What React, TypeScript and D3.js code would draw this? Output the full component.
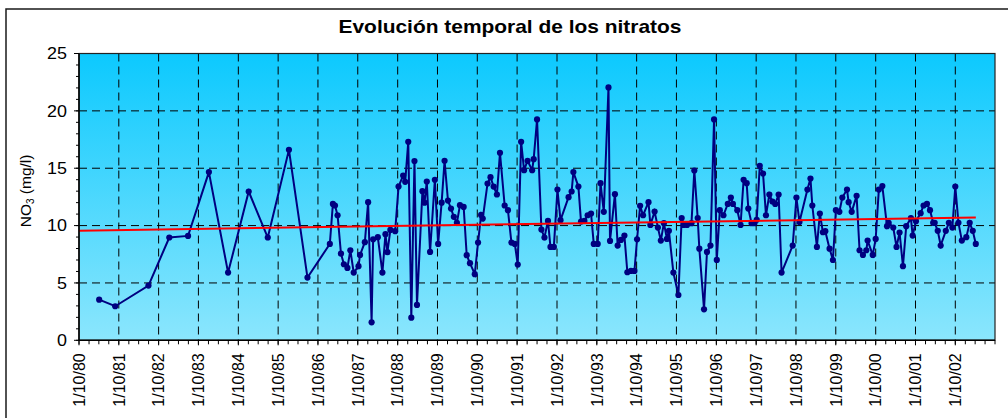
import React from "react";
import * as d3 from "d3";

const sampleDates = [
  "1981-04-04","1981-08-29","1982-06-30","1983-01-07","1983-06-28","1984-01-05","1984-06-29","1985-01-04","1985-06-28","1986-01-08",
  "1986-06-27","1987-01-18","1987-02-15","1987-03-06","1987-03-30","1987-04-30","1987-05-27","1987-06-28","1987-07-25","1987-08-25",
  "1987-10-08","1987-10-22","1987-12-05","1988-01-04","1988-02-05","1988-02-19","1988-04-02","1988-05-14","1988-06-11","1988-06-29",
  "1988-07-26","1988-09-08","1988-10-09","1988-11-20","1988-12-09","1989-01-06","1989-02-03","1989-03-04","1989-03-27","1989-05-16",
  "1989-06-04","1989-06-25","1989-07-25","1989-09-07","1989-10-07","1989-11-08","1989-12-05","1990-01-05","1990-02-02","1990-02-28",
  "1990-03-28","1990-04-25","1990-05-29","1990-06-26","1990-07-26","1990-09-08","1990-10-08","1990-11-05","1990-11-20","1991-01-03",
  "1991-01-30","1991-02-28","1991-03-30","1991-04-27","1991-06-09","1991-07-09","1991-08-10","1991-09-10","1991-10-07","1991-11-07",
  "1991-12-04","1992-01-05","1992-02-16","1992-03-01","1992-04-01","1992-05-11","1992-06-08","1992-07-10","1992-08-02","1992-09-02",
  "1992-10-05","1992-11-02","1993-01-15","1993-02-12","1993-02-28","1993-04-15","1993-05-09","1993-06-09","1993-07-09","1993-08-09",
  "1993-09-03","1993-10-09","1993-11-04","1993-12-04","1994-01-16","1994-01-30","1994-03-16","1994-04-10","1994-05-10","1994-06-11",
  "1994-07-08","1994-08-10","1994-09-11","1994-10-05","1994-11-02","1994-11-29","1995-01-18","1995-02-04","1995-03-15","1995-04-14",
  "1995-05-11","1995-06-08","1995-07-06","1995-07-24","1995-09-03","1995-10-19","1995-11-18","1995-12-06","1996-01-06","1996-02-16",
  "1996-03-13","1996-04-13","1996-04-28","1996-06-10","1996-07-07","1996-08-08","1996-09-10","1996-10-05","1996-11-02","1996-12-05",
  "1997-01-14","1997-02-11","1997-03-02","1997-04-11","1997-05-11","1997-06-08","1997-07-06","1997-07-21","1997-08-20","1997-09-15",
  "1997-10-06","1997-11-03","1997-12-03","1997-12-30","1998-01-30","1998-02-27","1998-03-25","1998-04-25","1998-05-22","1998-09-01",
  "1998-10-05","1998-11-02","1999-01-14","1999-02-11","1999-02-28","1999-04-11","1999-05-08","1999-06-05","1999-06-27","1999-08-05",
  "1999-09-05","1999-10-02","1999-11-03","1999-11-30","2000-01-12","2000-01-27","2000-02-24","2000-04-09","2000-05-06","2000-06-06",
  "2000-07-07","2000-07-19","2000-09-04","2000-10-01","2000-10-30","2000-12-01","2001-01-13","2001-01-28","2001-03-11","2001-04-10",
  "2001-05-08","2001-06-08","2001-07-08","2001-08-20","2001-09-05","2001-10-05","2001-11-17","2001-12-14","2002-01-14","2002-02-11",
  "2002-03-12","2002-03-26","2002-04-23","2002-05-20","2002-07-06","2002-08-03","2002-09-04","2002-10-01","2002-10-30","2002-11-30",
  "2003-01-10","2003-02-10","2003-03-10","2003-04-07",
];

const nitrate = [
  3.54, 2.97, 4.77, 8.96, 9.1, 14.66, 5.9, 12.97, 8.96, 16.6,
  5.47, 8.4, 11.89, 11.75, 10.9, 7.56, 6.63, 6.31, 7.85, 5.9,
  6.46, 7.44, 8.55, 12.04, 1.57, 8.81, 8.99, 5.9, 9.25, 7.68,
  9.62, 9.51, 13.4, 14.36, 13.81, 17.3, 1.97, 15.62, 3.08, 13.0,
  12.0, 13.84, 7.7, 13.99, 8.4, 12.0, 15.65, 12.18, 11.48, 10.76,
  10.24, 11.78, 11.63, 7.42, 6.72, 5.76, 8.52, 10.93, 10.61, 13.67,
  14.22, 13.4, 12.71, 16.34, 11.75, 11.34, 8.52, 8.4, 6.6, 17.3,
  14.83, 15.65, 14.83, 15.79, 19.25, 9.65, 8.96, 10.41, 8.14, 8.14,
  13.14, 10.47, 12.48, 12.97, 14.66, 13.4, 10.35, 10.41, 10.9, 11.05,
  8.4, 8.4, 13.7, 11.2, 22.04, 8.66, 12.74, 8.26, 8.75, 9.13,
  5.93, 6.05, 6.05, 8.81, 11.72, 10.9, 12.04, 10.06, 11.22, 9.83,
  8.69, 10.21, 8.84, 9.54, 5.9, 3.95, 10.65, 10.06, 10.06, 10.21,
  14.8, 10.65, 7.99, 2.7, 7.7, 8.26, 19.25, 7.01, 11.34, 10.9,
  11.89, 12.44, 11.89, 11.34, 10.06, 13.99, 13.7, 11.48, 10.21, 10.21,
  10.5, 15.21, 14.54, 10.9, 12.71, 12.1, 11.89, 12.71, 5.9, 8.26,
  12.44, 10.32, 13.14, 14.1, 11.75, 8.14, 11.05, 9.42, 9.51, 7.99,
  7.0, 11.34, 11.2, 12.44, 13.14, 12.04, 11.2, 12.59, 7.85, 7.44,
  7.85, 8.69, 7.44, 8.84, 13.14, 13.44, 9.95, 10.24, 9.83, 8.14,
  9.39, 6.46, 9.95, 10.65, 9.13, 10.38, 11.08, 11.75, 11.89, 11.34,
  10.24, 10.24, 9.54, 8.26, 9.54, 10.24, 9.83, 13.4, 10.24, 8.69,
  8.99, 10.24, 9.54, 8.4,
];

const xTickLabels = [
  "1/10/80","1/10/81","1/10/82","1/10/83","1/10/84","1/10/85","1/10/86","1/10/87",
  "1/10/88","1/10/89","1/10/90","1/10/91","1/10/92","1/10/93","1/10/94","1/10/95",
  "1/10/96","1/10/97","1/10/98","1/10/99","1/10/00","1/10/01","1/10/02",
];
const yTicks = [0, 5, 10, 15, 20, 25];
const trendStartEnd = [9.56, 10.7];
const axisRange = ["1980-10-01", "2003-09-30"];

const W = 1008;
const H = 418;
const M = { left: 79, right: 995, top: 53.5, bottom: 340.3 };

export default function App() {
  const parseISO = d3.timeParse("%Y-%m-%d");
  const parseTick = d3.timeParse("%d/%m/%y");
  const domain = axisRange.map((s) => parseISO(s) as Date);
  const x = d3.scaleTime().domain(domain).range([M.left, M.right]);
  const y = d3.scaleLinear().domain([0, 25]).range([M.bottom, M.top]);

  const pts = sampleDates.map((d, i) => ({ d: parseISO(d) as Date, v: nitrate[i] }));
  const line = d3
    .line<{ d: Date; v: number }>()
    .x((p) => x(p.d))
    .y((p) => y(p.v));

  const majorDates = xTickLabels.map((s) => parseTick(s) as Date);
  const minorDates = d3.timeMonth.every(3)!.range(domain[0], domain[1]).concat([domain[1]]);
  const minorY = d3.range(0, 26, 1);

  const trendPts = [
    { d: domain[0], v: trendStartEnd[0] },
    { d: pts[pts.length - 1].d, v: trendStartEnd[1] },
  ];

  const font = "'Liberation Sans', Arial, Helvetica, sans-serif";
  const plotW = M.right - M.left;
  const plotH = M.bottom - M.top;

  return (
    <svg
      width={W}
      height={H}
      style={{ position: "absolute", left: 0, top: 0, background: "#fff" }}
      fontFamily={font}
    >
      <defs>
        <linearGradient id="bg" x1="0" y1="0" x2="0" y2="1">
          <stop offset="0%" stopColor="#0cc9fe" />
          <stop offset="100%" stopColor="#8be6fd" />
        </linearGradient>
      </defs>
      {/* outer chart border (extends beyond the picture) */}
      <rect x={6} y={9} width={1100} height={600} fill="#fff" stroke="#1a1a1a" strokeWidth={1.5} />

      {/* title */}
      <text
        x={510}
        y={33}
        textAnchor="middle"
        fontSize={18.5}
        fontWeight="bold"
        fill="#000"
        textLength={343}
        lengthAdjust="spacingAndGlyphs"
      >
        Evolución temporal de los nitratos
      </text>

      {/* plot background */}
      <rect x={M.left} y={M.top} width={plotW} height={plotH} fill="url(#bg)" />

      {/* grid lines */}
      {yTicks
        .filter((t) => t > 0 && t < 25)
        .map((t) => (
          <line
            key={"gy" + t}
            x1={M.left}
            x2={M.right}
            y1={y(t)}
            y2={y(t)}
            stroke="#000"
            strokeWidth={1}
            strokeDasharray="8,5"
          />
        ))}
      {majorDates
        .filter((d) => x(d) > M.left + 1)
        .map((d, i) => (
          <line
            key={"gx" + i}
            x1={x(d)}
            x2={x(d)}
            y1={M.top}
            y2={M.bottom}
            stroke="#000"
            strokeWidth={1}
            strokeDasharray="8,5"
          />
        ))}

      {/* plot border */}
      <rect x={M.left} y={M.top} width={plotW} height={plotH} fill="none" stroke="#222" strokeWidth={1.2} />

      {/* data series */}
      <path d={line(pts) || ""} fill="none" stroke="#000080" strokeWidth={2} />
      {pts.map((p, i) => (
        <circle key={"p" + i} cx={x(p.d)} cy={y(p.v)} r={3.1} fill="#000080" />
      ))}

      {/* trend line */}
      <path d={line(trendPts) || ""} fill="none" stroke="#ff0000" strokeWidth={2} />

      {/* y axis */}
      <line x1={M.left} x2={M.left} y1={M.top} y2={M.bottom} stroke="#000" strokeWidth={1.5} />
      {minorY.map((t) => (
        <line key={"my" + t} x1={M.left - 3} x2={M.left} y1={y(t)} y2={y(t)} stroke="#000" strokeWidth={1} />
      ))}
      {yTicks.map((t) => (
        <g key={"yt" + t}>
          <line x1={M.left - 5} x2={M.left} y1={y(t)} y2={y(t)} stroke="#000" strokeWidth={1} />
          <text
            transform={`translate(${M.left - 12}, ${y(t)}) scale(1.12, 1)`}
            dy="0.36em"
            textAnchor="end"
            fontSize={16}
            fill="#000"
          >
            {t}
          </text>
        </g>
      ))}
      <text transform={`translate(31, ${(M.top + M.bottom) / 2 - 6}) rotate(-90)`} textAnchor="middle" fontSize={15.5} fill="#000">
        NO<tspan fontSize={10} dy={3}>3</tspan>
        <tspan dy={-3}> (mg/l)</tspan>
      </text>

      {/* x axis */}
      <line x1={M.left} x2={M.right} y1={M.bottom} y2={M.bottom} stroke="#000" strokeWidth={1.5} />
      {minorDates.map((d, i) => (
        <line key={"mx" + i} x1={x(d)} x2={x(d)} y1={M.bottom} y2={M.bottom + 4} stroke="#000" strokeWidth={1} />
      ))}
      {majorDates.map((d, i) => (
        <g key={"xt" + i}>
          <line x1={x(d)} x2={x(d)} y1={M.bottom} y2={M.bottom + 5} stroke="#000" strokeWidth={1} />
          <text
            transform={`translate(${x(d)}, ${M.bottom + 13}) rotate(-90)`}
            dy="0.36em"
            textAnchor="end"
            fontSize={16}
            fill="#000"
          >
            {xTickLabels[i]}
          </text>
        </g>
      ))}
    </svg>
  );
}
